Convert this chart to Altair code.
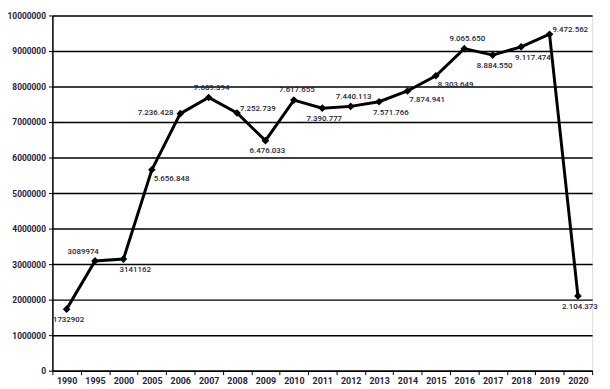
import altair as alt
import pandas as pd

years = ["1990", "1995", "2000", "2005", "2006", "2007", "2008", "2009", "2010",
         "2011", "2012", "2013", "2014", "2015", "2016", "2017", "2018", "2019", "2020"]
values = [1732902, 3089974, 3141162, 5656848, 7236428, 7689394, 7252739, 6476033,
          7617655, 7390777, 7440113, 7571766, 7874941, 8303649, 9065650, 8884550,
          9117474, 9472562, 2104373]
labels = ["1732902", "3089974", "3141162", "5.656.848", "7.236.428", "7.689.394",
          "7.252.739", "6.476.033", "7.617.655", "7.390.777", "7.440.113", "7.571.766",
          "7.874.941", "8.303.649", "9.065.650", "8.884.550", "9.117.474", "9.472.562",
          "2.104.373"]
placement = ["below", "above-left", "below-right", "right-below", "left", "above",
             "right", "below", "above", "below", "above", "below-right", "right-below",
             "right-below", "above", "below", "below-right", "right", "below"]
y_ticks = [0, 1000000, 2000000, 3000000, 4000000, 5000000, 6000000, 7000000,
           8000000, 9000000, 10000000]

df = pd.DataFrame({"year": years, "value": values, "label": labels, "pos": placement})

FONT = "Roboto"
TXT = "#1f2340"

x = alt.X("year:N", sort=years,
          scale=alt.Scale(paddingInner=0, paddingOuter=0),
          axis=alt.Axis(title=None, labelAngle=0, tickBand="extent", grid=False,
                        domainColor="black", domainWidth=1.5, tickColor="black",
                        tickSize=4, tickWidth=1, labelFont=FONT, labelFontSize=9,
                        labelFontWeight="bold", labelColor=TXT, labelPadding=2))
y = alt.Y("value:Q", scale=alt.Scale(domain=[0, 10000000], nice=False),
          axis=alt.Axis(title=None, values=y_ticks, format="d", grid=True,
                        gridColor="black", gridWidth=1.5, domainColor="black",
                        domainWidth=1.5, tickColor="black", tickSize=4,
                        labelFont=FONT, labelFontSize=8.5, labelFontWeight="bold",
                        labelColor=TXT, labelPadding=3))

base = alt.Chart(df)
line = base.mark_line(color="black", strokeWidth=3).encode(x=x, y=y)
pts = base.mark_point(shape="diamond", filled=True, color="black", size=60,
                      opacity=1).encode(x=x, y=y)

cfg = {
    "below": dict(dx=2, dy=11),
    "above": dict(dx=3, dy=-10),
    "above-left": dict(dx=-12, dy=-9),
    "below-right": dict(dx=12, dy=11),
    "right-below": dict(dx=20, dy=9),
    "right": dict(dx=21, dy=-4),
    "left": dict(dx=-25, dy=-1),
}
texts = []
for k, c in cfg.items():
    texts.append(
        base.transform_filter(alt.datum.pos == k)
        .mark_text(font=FONT, fontSize=8, fontWeight=500, color=TXT, align="center",
                   baseline="middle", **c)
        .encode(x=x, y=y, text="label:N")
    )

chart = alt.layer(line, pts, *texts).properties(
    width=547, height=360,
    autosize=alt.AutoSizeParams(type="none"),
    padding={"left": 45, "top": 5, "right": 10, "bottom": 16},
).configure_view(stroke=None).configure(background="white")

chart.save("out.html", embed_options={"renderer": "svg", "actions": False})
